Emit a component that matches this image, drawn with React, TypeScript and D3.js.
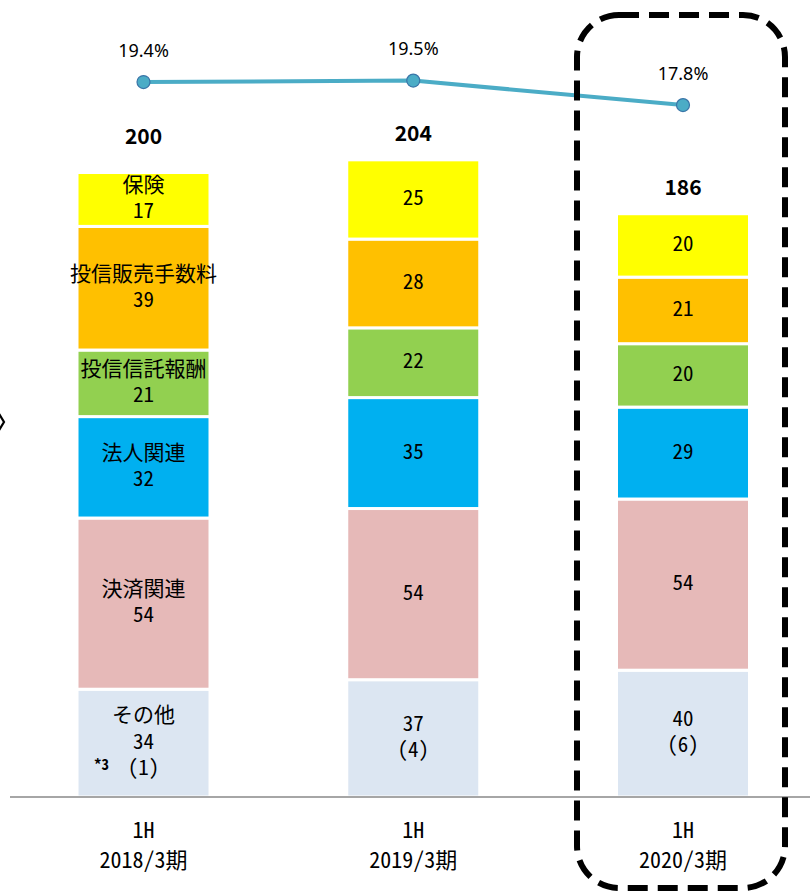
import React from "react";
import * as d3 from "d3";

const periodLine1 = ["1H", "1H", "1H"];
const periods = ["2018/3期", "2019/3期", "2020/3期"];
const segmentNames = ["その他", "決済関連", "法人関連", "投信信託報酬", "投信販売手数料", "保険"];
const segmentKeys = ["other", "settlement", "corporate", "trustFee", "trustSales", "insurance"];
const otherValues = [34, 37, 40];
const settlementValues = [54, 54, 54];
const corporateValues = [32, 35, 29];
const trustFeeValues = [21, 22, 20];
const trustSalesValues = [39, 28, 21];
const insuranceValues = [17, 25, 20];
const otherNotes = ["(1)", "(4)", "(6)"];
const totals = [200, 204, 186];
const ratios = [19.4, 19.5, 17.8];

const segmentColors = ["#DCE6F2", "#E6B9B8", "#00B0F0", "#92D050", "#FFC000", "#FFFF00"];
const totalOffsets = [29, 19, 19];

const W = 810;
const H = 892;
const FONT = "'Noto Sans CJK JP', 'Noto Sans', sans-serif";
const hw: React.CSSProperties = { fontFeatureSettings: "'hwid'" };

export default function App() {
  const rows = periods.map((p, i) => ({
    period: p,
    other: otherValues[i],
    settlement: settlementValues[i],
    corporate: corporateValues[i],
    trustFee: trustFeeValues[i],
    trustSales: trustSalesValues[i],
    insurance: insuranceValues[i],
  }));
  const stack = d3.stack<any>().keys(segmentKeys);
  const series = stack(rows);

  const x = d3.scalePoint<string>().domain(periods).range([143.5, 683]);
  const barW = 133;
  const baseline = 797;
  const y = d3.scaleLinear().domain([0, 250]).range([baseline, baseline - 250 * 3.17]);
  const yr = d3.scaleLinear().domain([10, 20]).range([217.4, 73.4]);

  const line = d3
    .line<number>()
    .x((_, i) => x(periods[i]) as number)
    .y((d) => yr(d));

  return (
    <svg
      width={W}
      height={H}
      style={{ position: "absolute", left: 0, top: 0, display: "block", background: "#fff" }}
      fontFamily={FONT}
    >
      <path d="M-2,412 L4,422 L-2,432" fill="none" stroke="#000" strokeWidth={2.2} />

      {series.map((s, si) => (
        <g key={s.key}>
          {s.map((d, i) => {
            const cx = x(periods[i]) as number;
            const y0 = y(d[0]);
            const y1 = y(d[1]);
            return (
              <rect
                key={i}
                x={cx - barW / 2}
                y={y1}
                width={barW}
                height={y0 - y1}
                fill={segmentColors[si]}
                stroke="#fff"
                strokeWidth={3}
              />
            );
          })}
        </g>
      ))}

      {series.map((s, si) =>
        s.map((d, i) => {
          const cx = x(periods[i]) as number;
          const mid = (y(d[0]) + y(d[1])) / 2;
          const lines: string[] = [];
          if (i === 0) lines.push(segmentNames[si]);
          lines.push(String(d[1] - d[0]));
          if (si === 0) lines.push(otherNotes[i]);
          const lh = 26.5;
          const start = mid - ((lines.length - 1) * lh) / 2 - 2;
          return (
            <g key={`${si}-${i}`}>
              <text
                x={cx}
                y={start}
                dy="0.36em"
                textAnchor="middle"
                fontSize={21}
                fill="#000"
                style={hw}
              >
                {lines.map((t, li) => (
                  <tspan key={li} x={cx} dy={li === 0 ? "0.36em" : lh}>
                    {t}
                  </tspan>
                ))}
              </text>
              {si === 0 && i === 0 && (
                <text
                  x={cx - 42}
                  y={start + 2 * lh - 3}
                  dy="0.36em"
                  textAnchor="middle"
                  fontSize={15}
                  fontWeight="bold"
                  fill="#000"
                  style={hw}
                >
                  *3
                </text>
              )}
            </g>
          );
        })
      )}

      {totals.map((t, i) => {
        const top = y(series[series.length - 1][i][1]);
        return (
          <text
            key={i}
            x={x(periods[i]) as number}
            y={top - totalOffsets[i]}
            textAnchor="middle"
            fontSize={21}
            fontWeight="bold"
            fill="#000"
          >
            {t}
          </text>
        );
      })}

      <line x1={10} x2={W} y1={baseline} y2={baseline} stroke="#888" strokeWidth={1.5} />
      {periods.map((p, i) => (
        <text key={p} x={x(p) as number} y={830} textAnchor="middle" fontSize={22} style={hw}>
          <tspan x={x(p) as number} dy="0.36em">
            {periodLine1[i]}
          </tspan>
          <tspan x={x(p) as number} dy={30}>
            {p}
          </tspan>
        </text>
      ))}

      <path d={line(ratios) || ""} fill="none" stroke="#4BACC6" strokeWidth={4} />
      {ratios.map((r, i) => (
        <g key={i}>
          <circle
            cx={x(periods[i]) as number}
            cy={yr(r)}
            r={6.5}
            fill="#4BACC6"
            stroke="#3A75A8"
            strokeWidth={1.2}
          />
          <text
            x={x(periods[i]) as number}
            y={yr(r) - 32}
            dy="0.36em"
            textAnchor="middle"
            fontSize={18}
            fontFamily="'Noto Sans', sans-serif"
            fill="#000"
          >
            {r.toFixed(1)}%
          </text>
        </g>
      ))}

      <rect
        x={577}
        y={15}
        width={208}
        height={873}
        rx={42}
        ry={42}
        fill="none"
        stroke="#000"
        strokeWidth={6}
        strokeDasharray="20 10"
      />
    </svg>
  );
}
